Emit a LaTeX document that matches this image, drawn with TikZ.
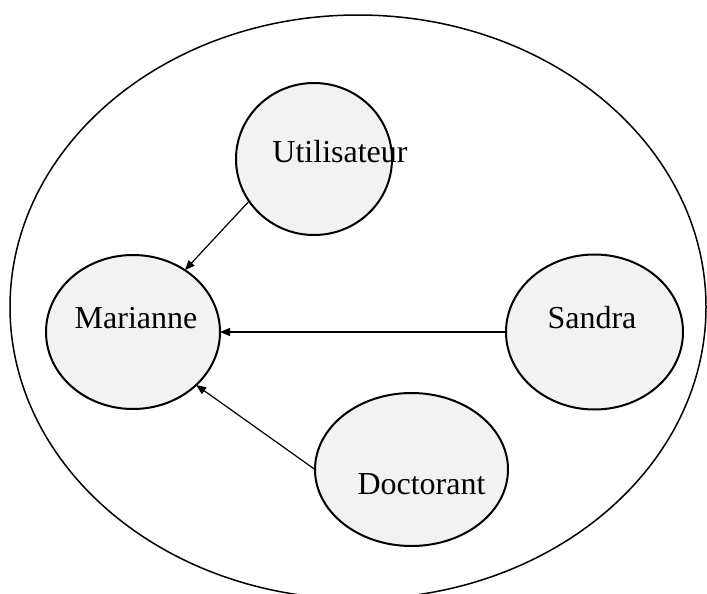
\documentclass[tikz,border=0pt]{standalone}
\usepackage{fontspec}
\setmainfont{Liberation Serif}
\usetikzlibrary{shapes.geometric,arrows.meta}
\definecolor{bubble}{HTML}{F2F2F2}
\begin{document}
\begin{tikzpicture}[x=0.5pt,y=-0.5pt, every node/.style={font=\fontsize{16}{19}\selectfont},
  actor/.style={ellipse,draw,line width=1pt,fill=bubble,inner sep=0pt,outer sep=0pt},
  link/.style={-{Triangle[length=5pt,width=4pt]},line width=0.6pt}]
 \useasboundingbox (0,0) rectangle (707,594);
 \draw[line width=0.75pt] (358,307) ellipse [x radius=348,y radius=292];
 \node[actor,minimum width=87pt,minimum height=77pt] (mar) at (133,332) {};
 \node[actor,minimum width=78pt,minimum height=76pt] (uti) at (314,159) {};
 \node[actor,minimum width=88.5pt,minimum height=77.5pt] (san) at (594.5,332) {};
 \node[actor,minimum width=96.5pt,minimum height=76.5pt] (doc) at (411.5,469.5) {};
 \node[anchor=base] (martxt) at (136,328) {Marianne};
 \node[anchor=base] (utitxt) at (340,162) {Utilisateur};
 \node[anchor=base] (santxt) at (592,328) {Sandra};
 \node[anchor=base] (doctxt) at (421.5,494) {Doctorant};
 \draw[link] (uti.213) -- (mar.50);
 \draw[link] (san) -- (mar);
 \draw[link] (doc.west) -- (mar.-40);
\end{tikzpicture}
\end{document}
